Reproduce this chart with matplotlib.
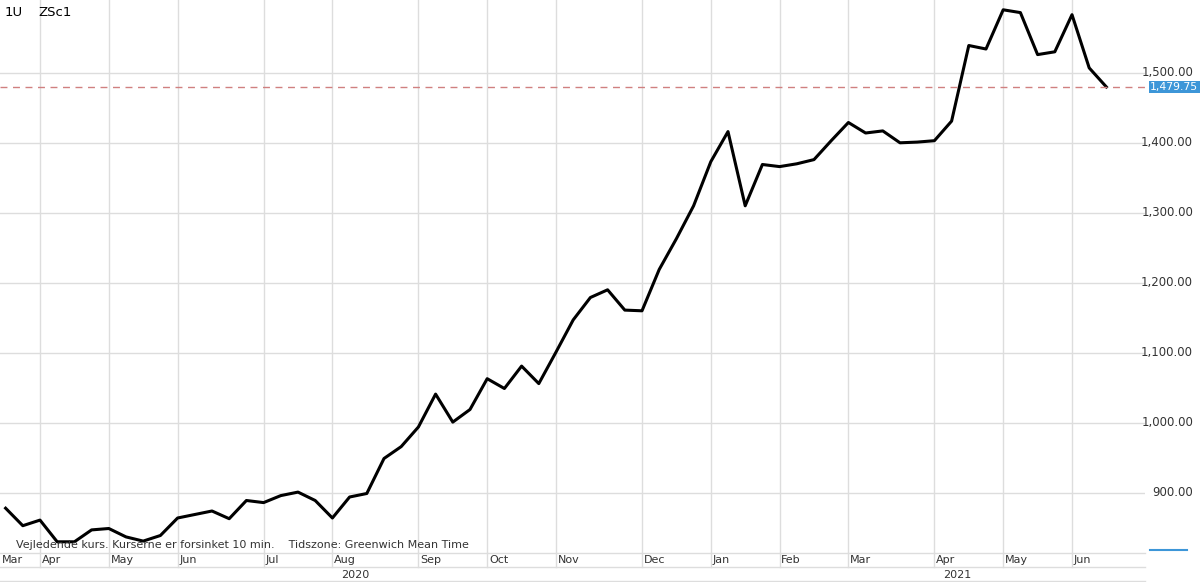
import matplotlib
matplotlib.use("Agg")
import matplotlib.pyplot as plt
import matplotlib.transforms as mtrans

values = [878,853,861,830,830,847,849,837,831,839,
          864,869,874,863,889,886,896,901,889,864,
          894,899,949,966,994,1041,1001,1019,1063,1049,
          1081,1056,1101,1147,1179,1190,1161,1160,1219,1263,
          1310,1373,1416,1310,1369,1366,1370,1376,1403,1429,
          1414,1417,1400,1401,1403,1431,1539,1534,1590,1586,
          1526,1530,1583,1507,1479.75]
last_price = 1479.75
yticks = [900, 1000, 1100, 1200, 1300, 1400, 1500]
month_names = ["Mar","Apr","May","Jun","Jul","Aug","Sep","Oct","Nov","Dec",
               "Jan","Feb","Mar","Apr","May","Jun"]
month_idx = [None, 2, 6, 10, 15, 19, 24, 28, 32, 37, 41, 45, 49, 54, 58, 62]  # weekly bar index of month start
years = ["2020", "2021"]
year_center_idx = [20.3, 55.3]

W, H = 1200, 582
fig = plt.figure(figsize=(W/100, H/100), dpi=100)
ax = fig.add_axes([0, 29/H, 1145/W, 553/H])
step = 17.2
x0 = -5.6/step
x1 = x0 + 1145/step
ax.set_xlim(x0, x1)
ax.set_ylim(814, 1604)
ax.plot(range(len(values)), values, color="black", lw=2.2)

for i in month_idx[1:]:
    ax.axvline(i, color="#dddddd", lw=1, zorder=0)
for v in yticks:
    ax.axhline(v, color="#dddddd", lw=1, zorder=0)
for s in ax.spines.values():
    s.set_visible(False)
ax.set_xticks([]); ax.set_yticks([])
ax.plot([x0, x0 + 1178/step], [last_price]*2, color="#d08080", lw=1, ls=(0, (5, 4)), clip_on=False)

for v in yticks:
    ax.text(1.042, v, f"{v:,.2f}", transform=ax.get_yaxis_transform(), ha="right",
            va="center", fontsize=8.5, color="#333333")
ax.text(1.0465, last_price, f"{last_price:,.2f}", transform=ax.get_yaxis_transform(),
        ha="right", va="center", fontsize=7.8, color="white",
        bbox=dict(boxstyle="square,pad=0.12", fc="#3d96d8", ec="none"))
ax.plot([1150/1145, 1187/1145], [3/553, 3/553], transform=ax.transAxes, color="#3d96d8",
        lw=1.5, clip_on=False)

fig.text(5/W, 1-12/H, "1U", fontsize=9.5, va="center")
fig.text(38/W, 1-12/H, "ZSc1", fontsize=9.5, va="center")
ax.text(16/1145, 8/553, "Vejledende kurs. Kurserne er forsinket 10 min.    Tidszone: Greenwich Mean Time",
        transform=ax.transAxes, fontsize=8, color="#333333", va="center")

trans = mtrans.blended_transform_factory(ax.transData, fig.transFigure)
for name, i in zip(month_names, month_idx):
    xx = (x0 if i is None else i) + 0.1
    fig.text(xx, 1-560/H, name, transform=trans, fontsize=8, color="#333333",
             va="center", ha="left")
for name, c in zip(years, year_center_idx):
    fig.text(c, 1-575/H, name, transform=trans, fontsize=8, color="#333333", va="center", ha="center")
for yy in [553, 567, 581]:
    fig.add_artist(plt.Line2D([0, 1145/W], [1-yy/H]*2, color="#dddddd", lw=1))
for i in month_idx[1:]:
    fig.add_artist(plt.Line2D([i, i], [1-567/H, 1-553/H], transform=trans, color="#dddddd", lw=1))
fig.savefig("out.png", dpi=100)
